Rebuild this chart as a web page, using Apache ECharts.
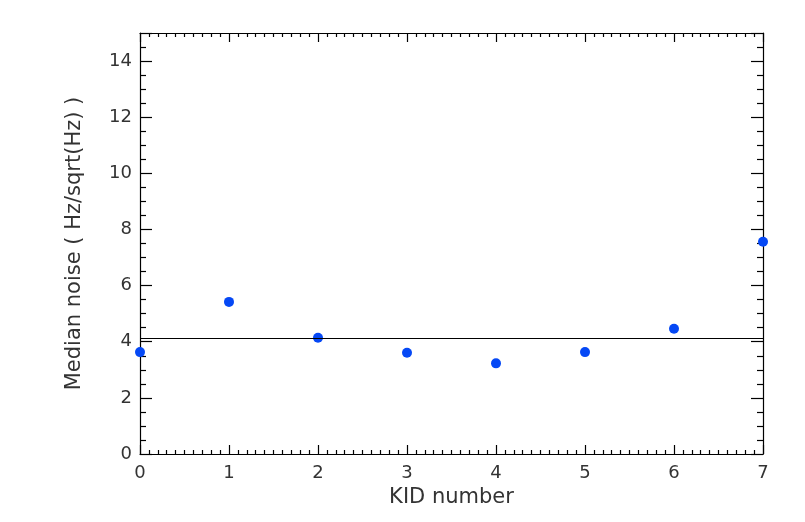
<!DOCTYPE html>
<html>
<head>
<meta charset="utf-8">
<script src="https://cdn.jsdelivr.net/npm/echarts@6/dist/echarts.min.js"></script>
<style>
  html, body { margin: 0; padding: 0; background: #fff; }
  #chart { width: 805px; height: 522px; }
</style>
</head>
<body>
<div id="chart"></div>
<script>
// KID index and median noise
var kidIds = [0, 1, 2, 3, 4, 5, 6, 7];
var medianNoise = [3.63, 5.42, 4.14, 3.61, 3.23, 3.63, 4.46, 7.56];
var referenceLevel = 4.14;

var font = 'DejaVu Sans';
var points = kidIds.map(function (k, i) { return [k, medianNoise[i]]; });

var chart = echarts.init(document.getElementById('chart'));

var lineStyle = { color: '#000', width: 1.2 };

chart.setOption({
    animation: false,
    backgroundColor: '#fff',
    grid: { left: 140, right: 42, top: 33, bottom: 68 },
    xAxis: [
        {
            type: 'value', min: 0, max: 7, interval: 1,
            name: 'KID number', nameLocation: 'middle', nameGap: 33,
            nameTextStyle: { fontFamily: font, fontSize: 21, color: '#333' },
            axisLine: { onZero: false, lineStyle: lineStyle },
            axisTick: { inside: true, length: 9, lineStyle: lineStyle },
            minorTick: { show: true, splitNumber: 10, length: 4, lineStyle: lineStyle },
            axisLabel: { fontFamily: font, fontSize: 18, color: '#333', margin: 10 },
            splitLine: { show: false }
        },
        {
            type: 'value', min: 0, max: 7, interval: 1, position: 'top',
            axisLine: { onZero: false, lineStyle: lineStyle },
            axisTick: { inside: true, length: 9, lineStyle: lineStyle },
            minorTick: { show: true, splitNumber: 10, length: 4, lineStyle: lineStyle },
            axisLabel: { show: false },
            splitLine: { show: false }
        }
    ],
    yAxis: [
        {
            type: 'value', min: 0, max: 15, interval: 2,
            name: 'Median noise ( Hz/sqrt(Hz) )', nameLocation: 'middle', nameGap: 55,
            nameTextStyle: { fontFamily: font, fontSize: 21, color: '#333' },
            axisLine: { onZero: false, lineStyle: lineStyle },
            axisTick: { inside: true, length: 12, lineStyle: lineStyle },
            minorTick: { show: true, splitNumber: 4, length: 6, lineStyle: lineStyle },
            axisLabel: { fontFamily: font, fontSize: 18, color: '#333', margin: 8,
                showMaxLabel: false },
            splitLine: { show: false }
        },
        {
            type: 'value', min: 0, max: 15, interval: 2, position: 'right',
            axisLine: { onZero: false, lineStyle: lineStyle },
            axisTick: { inside: true, length: 12, lineStyle: lineStyle },
            minorTick: { show: true, splitNumber: 4, length: 6, lineStyle: lineStyle },
            axisLabel: { show: false },
            splitLine: { show: false }
        }
    ],
    series: [
        {
            type: 'scatter',
            data: points,
            symbol: 'circle',
            symbolSize: 10,
            itemStyle: { color: '#0548f5', opacity: 1 },
            markLine: {
                silent: true,
                symbol: 'none',
                label: { show: false },
                lineStyle: { color: '#000', width: 1.2, type: 'solid' },
                data: [{ yAxis: referenceLevel }]
            },
            z: 3
        }
    ]
});
</script>
</body>
</html>
